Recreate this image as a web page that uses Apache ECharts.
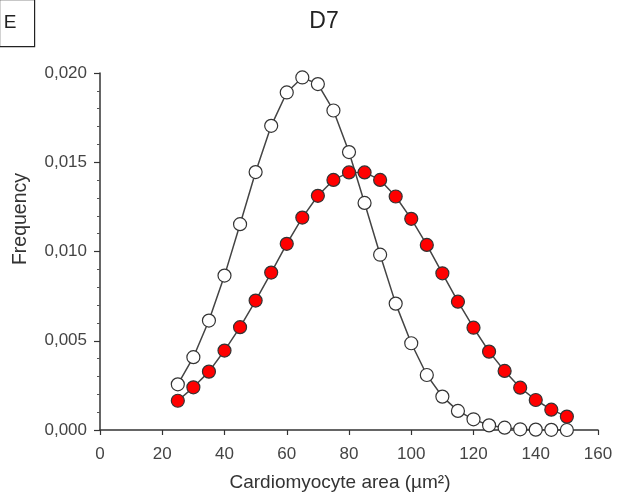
<!DOCTYPE html>
<html>
<head>
<meta charset="utf-8">
<script src="https://cdn.jsdelivr.net/npm/echarts@6/dist/echarts.min.js"></script>
<style>html,body{margin:0;padding:0;background:#fff}#c{width:633px;height:499px}</style>
</head>
<body>
<div id="c"></div>
<script>
var areas = [25,30,35,40,45,50,55,60,65,70,75,80,85,90,95,100,105,110,115,120,125,130,135,140,145,150];
var controlFreq = [0.00256,0.00408,0.00613,0.00865,0.01153,0.01445,0.01704,0.01891,0.01975,0.01938,0.01790,0.01557,0.01272,0.00982,0.00708,0.00486,0.00308,0.00187,0.00107,0.00060,0.00026,0.00013,0.00004,0.00002,0.00001,0.00000];
var treatedFreq = [0.00164,0.00239,0.00327,0.00445,0.00576,0.00725,0.00882,0.01043,0.01190,0.01312,0.01401,0.01443,0.01443,0.01401,0.01308,0.01183,0.01037,0.00878,0.00719,0.00573,0.00439,0.00331,0.00237,0.00168,0.00114,0.00075];
var xTicks = [0,20,40,60,80,100,120,140,160];
var yTicks = [0,0.005,0.010,0.015,0.020];
var panelLabel = 'E';
var chartTitle = 'D7';
var xTitle = 'Cardiomyocyte area (µm²)';
var yTitle = 'Frequency';

function pairs(xs, ys){ return xs.map(function(x,i){ return [x, ys[i]]; }); }

var chart = echarts.init(document.getElementById('c'), null, {renderer:'canvas'});
var font = 'Liberation Sans, Arial, sans-serif';
chart.setOption({
  animation:false,
  backgroundColor:'#fff',
  graphic:[
    {type:'rect', left:-1, top:-1, shape:{width:35, height:47}, style:{fill:'#fff', stroke:'#222', lineWidth:1.2}},
    {type:'text', x:10, y:23, style:{text:panelLabel, font:'19px '+font, fill:'#222', align:'center', verticalAlign:'middle'}},
    {type:'text', x:324, y:22, style:{text:chartTitle, font:'23px '+font, fill:'#222', align:'center', verticalAlign:'middle'}},
    {type:'text', x:340, y:483, style:{text:xTitle, font:'19px '+font, fill:'#333', align:'center', verticalAlign:'middle'}},
    {type:'text', x:21, y:219, rotation:Math.PI/2, style:{text:yTitle, font:'19.5px '+font, fill:'#333', align:'center', verticalAlign:'middle'}}
  ],
  grid:{left:100, right:35, top:73, bottom:69},
  xAxis:{
    type:'value', min:xTicks[0], max:xTicks[xTicks.length-1], interval:20,
    axisLine:{show:true, onZero:false, lineStyle:{color:'#333', width:1.5}},
    axisTick:{show:true, length:5, lineStyle:{color:'#333', width:1.2}},
    axisLabel:{fontFamily:font, fontSize:17, color:'#444', margin:16},
    splitLine:{show:false}
  },
  yAxis:{
    type:'value', min:yTicks[0], max:yTicks[yTicks.length-1], interval:0.005,
    axisLine:{show:true, onZero:false, lineStyle:{color:'#333', width:1.5}},
    axisTick:{show:true, length:6, lineStyle:{color:'#333', width:1.2}},
    minorTick:{show:true, splitNumber:5, length:3, lineStyle:{color:'#555'}},
    axisLabel:{fontFamily:font, fontSize:17, color:'#444', margin:13,
      formatter:function(v){ return v.toFixed(3).replace('.', ','); }},
    splitLine:{show:false}
  },
  series:[
    {type:'line', data:pairs(areas, controlFreq), symbol:'circle', symbolSize:13,
     lineStyle:{color:'#444', width:1.5},
     itemStyle:{color:'#fff', borderColor:'#333', borderWidth:1.2}, z:2},
    {type:'line', data:pairs(areas, treatedFreq), symbol:'circle', symbolSize:13,
     lineStyle:{color:'#444', width:1.5},
     itemStyle:{color:'#ff0000', borderColor:'#333', borderWidth:1.2}, z:3}
  ]
});
</script>
</body>
</html>
